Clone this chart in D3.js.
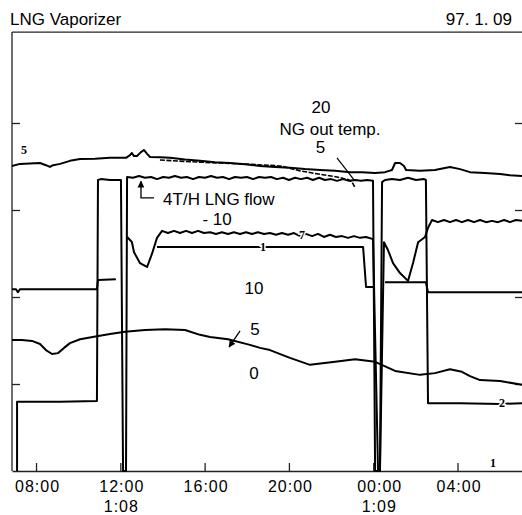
<!DOCTYPE html>
<html>
<head>
<meta charset="utf-8">
<script src="https://cdn.jsdelivr.net/npm/d3@7"></script>
<style>
body{margin:0;background:#fff;}
svg{display:block;font-family:"Liberation Sans",Arial,sans-serif;}
</style>
</head>
<body>
<div id="cont"></div>
<script>
// time in hours from 00:00 on 1/08, values in % of recorder scale
var hourTicks=[8,12,16,20,24,28];
var hourLabels=["08:00","12:00","16:00","20:00","00:00","04:00"];
var dateLabels=[[12,"1:08"],[24,"1:09"]];
var valueTicks=[20,40,60,80];

// NG out temp (pen 5, top)
var ngTemp=[[6.86,70.1],[7.24,70.6],[7.71,70.7],[8.19,70.8],[8.47,70.3],[8.66,69.9],[8.81,70.3],[9.14,70.6],[9.61,71.3],[10.09,71.7],[10.80,71.8],[11.51,72.0],[12.27,72.0],[12.46,72.6],[12.55,73.1],[12.65,72.4],[12.79,72.4],[12.98,73.3],[13.12,73.8],[13.27,72.9],[13.41,72.2],[13.88,72.1],[14.36,72.0],[15.07,71.6],[15.78,71.3],[16.49,71.0],[17.20,70.8],[17.92,70.5],[18.63,70.1],[19.34,69.9],[20.05,69.7],[20.76,69.4],[21.48,69.2],[22.19,69.0],[22.90,68.7],[23.47,68.7],[24.09,68.5],[24.56,68.7],[24.89,69.2],[25.04,70.8],[25.27,70.8],[25.46,70.1],[25.56,69.2],[26.22,69.0],[26.93,69.2],[27.64,69.9],[28.12,69.4],[28.59,68.7],[29.30,68.5],[30.02,68.3],[30.49,68.0],[31.06,67.8]];
var ngTemp2=[[13.88,71.5],[15.31,71.1],[16.73,70.8],[18.15,70.5],[19.34,70.2],[19.72,70.0],[20.53,69.0],[21.48,68.2],[22.28,67.6],[22.80,67.0],[22.99,66.5],[23.14,65.1]];

// LNG flow (pen 2)
var lngFlow=[[7.10,0],[7.10,15.9],[9.14,15.9],[10.89,16.1],[10.94,66.9],[11.08,67.1],[11.51,66.9],[12.03,66.9],[12.13,0],[12.27,0],[12.32,67.6],
[12.60,67.4],[12.89,67.8],[13.17,67.4],[13.46,67.6],[13.74,67.1],[14.03,67.6],[14.31,67.4],[14.59,67.8],[14.88,67.4],[15.16,67.6],[15.45,67.1],[15.73,67.6],[16.02,67.4],[16.30,67.8],[16.59,67.4],[16.87,67.6],[17.16,67.1],[17.44,67.6],[17.73,67.4],[18.01,67.6],[18.30,67.1],[18.58,67.6],[18.87,67.4],[19.15,67.6],[19.43,67.1],[19.72,67.4],[20.00,66.9],[20.29,67.4],[20.57,67.1],[20.86,67.4],[21.14,66.9],[21.43,67.4],[21.71,66.9],[22.00,67.1],[22.28,66.7],[22.57,67.1],[22.85,66.7],[23.14,66.9],[23.42,66.7],[23.71,66.9],[23.99,66.7],
[24.09,0],[24.32,0],[24.42,66.4],[24.56,66.9],[24.89,67.1],[25.27,66.9],[25.65,67.4],[26.03,66.9],[26.41,67.1],[26.50,66.9],[26.60,15.6],[28.12,15.6],[30.02,15.4],[31.06,15.6]];

// pen 7
var pen7=[[12.32,53.8],[12.46,53.1],[12.55,52.6],[12.65,50.3],[12.93,47.8],[13.27,46.9],[13.50,49.9],[13.74,53.6],[13.98,55.2],
[14.26,54.7],[14.55,55.2],[14.83,54.7],[15.12,55.2],[15.40,54.7],[15.69,55.2],[15.97,54.7],[16.26,54.9],[16.54,54.5],[16.82,54.9],[17.11,54.5],[17.39,54.9],[17.68,54.5],[17.96,54.9],[18.25,54.5],[18.53,54.9],[18.82,54.5],[19.10,54.7],[19.39,54.3],[19.67,54.7],[19.96,54.3],[20.24,54.7],[20.53,54.0],[20.81,54.5],[21.10,54.0],[21.38,54.5],[21.66,53.8],[21.95,54.3],[22.23,53.8],[22.52,54.0],[22.80,53.6],[23.09,54.0],[23.37,53.6],[23.66,53.8],[23.99,53.3],
[24.23,0],[24.32,0],[24.51,52.6],[24.70,50.8],[24.94,47.8],[25.27,45.5],[25.65,43.7],[25.89,47.8],[26.13,52.6],[26.46,53.8],[26.60,55.9],[26.79,57.7],
[27.07,57.2],[27.36,57.7],[27.64,57.2],[27.93,57.7],[28.21,57.2],[28.50,57.7],[28.78,57.2],[29.07,57.7],[29.35,57.2],[29.64,57.5],[29.92,57.2],[30.21,57.7],[30.49,57.2],[30.77,57.7],[31.06,57.5]];

// pen 1 (null = pen lifted)
var pen1=[[6.86,41.8],[7.05,41.8],[7.14,41.1],[7.24,41.8],[9.14,41.8],[10.89,41.8],[10.94,43.9],[11.79,44.1],null,
[13.74,51.5],[15.78,51.5],[18.63,51.5],[20.53,51.5],[23.52,51.5],[23.66,42.3],[23.99,42.3],null,
[24.56,43.4],[26.50,43.4],[26.60,41.1],[28.59,41.1],[31.06,41.1]];

// pen 5 (lower, temperature 0-20)
var pen5=[[6.86,30.1],[7.33,30.1],[7.81,29.9],[8.19,29.2],[8.47,27.8],[8.76,26.9],[9.04,27.1],[9.33,28.3],[9.61,29.4],[10.09,30.3],[10.89,31.0],[11.51,31.5],[12.22,32.0],[13.17,32.4],[14.12,32.6],[15.07,32.4],[15.78,31.3],[16.26,30.8],[17.11,30.3],[18.15,29.0],[18.63,28.3],[19.10,27.8],[20.05,26.0],[21.00,24.4],[22.19,25.1],[23.14,25.7],[24.09,25.1],[25.04,23.0],[26.22,22.1],[26.93,22.5],[27.64,23.4],[28.21,22.8],[28.59,21.8],[29.07,20.9],[30.02,20.7],[31.06,19.8]];

var penLabels=[[7.43,73.8,"5"],[20.62,54.3,"7"],[18.77,51.5,"1"],[30.11,15.6,"2"],[29.68,1.8,"1"]];

var width=522,height=515;
var x=d3.scaleLinear().domain([6.86,31.06]).range([12,522]);
var y=d3.scaleLinear().domain([0,100]).range([471,36]);

var svg=d3.select("#cont").append("svg")
  .attr("width",width)
  .attr("height",height);

svg.append("defs").append("marker")
  .attr("id","arr").attr("viewBox","0 0 10 10")
  .attr("refX",9).attr("refY",5)
  .attr("markerWidth",7).attr("markerHeight",7)
  .attr("markerUnits","userSpaceOnUse")
  .attr("orient","auto")
  .append("path").attr("d","M0,0L10,5L0,10z").attr("fill","#000");

// title
svg.append("text").attr("x",10).attr("y",25).attr("font-size",17).text("LNG Vaporizer");
svg.append("text").attr("x",512).attr("y",25).attr("font-size",17).attr("text-anchor","end").text("97. 1. 09");

// frame
svg.append("line").attr("x1",12).attr("x2",522).attr("y1",y(100.9)).attr("y2",y(100.9)).attr("stroke","#222").attr("stroke-width",1.3);
svg.append("line").attr("x1",12).attr("x2",12).attr("y1",y(100.9)).attr("y2",y(0)).attr("stroke","#222").attr("stroke-width",1.3);

var xAxis=d3.axisBottom(x).tickValues(hourTicks)
  .tickFormat(function(d,i){return hourLabels[i];})
  .tickSizeInner(-8).tickSizeOuter(0).tickPadding(10);
var gx=svg.append("g").attr("transform","translate(0,"+y(0)+")").call(xAxis);
gx.attr("font-size",16).attr("font-family",null);
gx.selectAll("path,line").attr("stroke","#222").attr("stroke-width",1.3);
gx.selectAll("text").attr("letter-spacing",1).attr("dy","0.66em")
  .attr("dx",function(d){return d===24?6:1;});

svg.selectAll(".datelab").data(dateLabels).enter().append("text")
  .attr("x",function(d){return x(d[0])+(d[0]===24?6:1);})
  .attr("y",511.5).attr("font-size",16).attr("letter-spacing",1).attr("text-anchor","middle")
  .text(function(d){return d[1];});

var gl=svg.append("g").attr("transform","translate(12,0)")
  .call(d3.axisLeft(y).tickValues(valueTicks).tickFormat("").tickSizeInner(-8).tickSizeOuter(0));
gl.select(".domain").remove();
gl.selectAll("line").attr("stroke","#222").attr("stroke-width",1.3);
var gr=svg.append("g").attr("transform","translate(522,0)")
  .call(d3.axisRight(y).tickValues(valueTicks).tickFormat("").tickSizeInner(-7).tickSizeOuter(0));
gr.select(".domain").remove();
gr.selectAll("line").attr("stroke","#222").attr("stroke-width",1.3);

var line=d3.line()
  .defined(function(d){return d!==null;})
  .x(function(d){return x(d[0]);})
  .y(function(d){return y(d[1]);});

var traces=[pen5,pen1,pen7,lngFlow,ngTemp];
svg.selectAll(".trace").data(traces).enter().append("path")
  .attr("class","trace")
  .attr("d",line)
  .attr("fill","none").attr("stroke","#000")
  .attr("stroke-width",2).attr("stroke-linejoin","round");
svg.append("path").attr("d",line(ngTemp2))
  .attr("fill","none").attr("stroke","#000").attr("stroke-width",1.6)
  .attr("stroke-dasharray","5,1.5");

// pen numbers written on the traces
svg.selectAll(".pen").data(penLabels).enter().append("text")
  .attr("x",function(d){return x(d[0]);})
  .attr("y",function(d){return y(d[1])+4;})
  .attr("text-anchor","middle")
  .attr("font-family","'Liberation Serif',serif").attr("font-weight","bold").attr("font-size",12)
  .attr("stroke","#fff").attr("stroke-width",3).attr("paint-order","stroke")
  .text(function(d){return d[2];});

// annotations
function label(h,v,t,anchor){
  svg.append("text").attr("x",x(h)).attr("y",y(v)).attr("font-size",17)
    .attr("text-anchor",anchor||"middle").text(t);
}
label(21.52,82.3,"20");
label(21.95,77.2,"NG out temp.");
label(21.50,73.1,"5");
label(14.03,61.1,"4T/H LNG flow","start");
label(16.59,56.6,"- 10");
label(18.34,40.7,"10");
label(18.39,31.3,"5");
label(18.34,21.1,"0");

svg.append("line").attr("x1",x(22.28)).attr("y1",y(72.0)).attr("x2",x(23.09)).attr("y2",y(66.9))
  .attr("stroke","#000").attr("stroke-width",1.2);
svg.append("path").attr("d",line([[13.60,62.8],[12.98,62.8],[12.98,66.6]]))
  .attr("fill","none").attr("stroke","#000").attr("stroke-width",1.3).attr("marker-end","url(#arr)");
svg.append("line").attr("x1",x(17.68)).attr("y1",y(32.2)).attr("x2",x(17.16)).attr("y2",y(28.5))
  .attr("stroke","#000").attr("stroke-width",1.3).attr("marker-end","url(#arr)");
</script>
</body>
</html>
